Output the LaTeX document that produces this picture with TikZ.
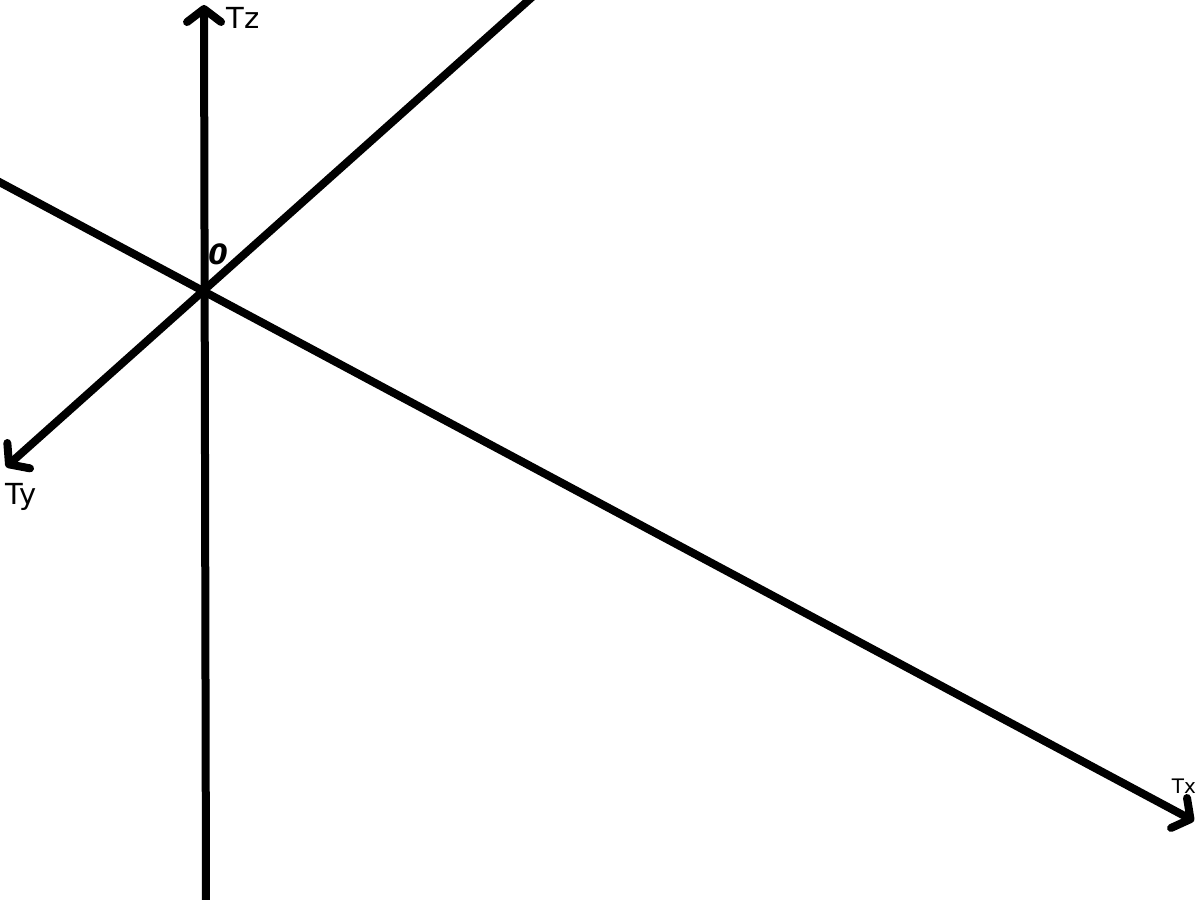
\documentclass[tikz,border=0pt]{standalone}
\usepackage{fontspec}
\setmainfont{DejaVu Sans}
\usetikzlibrary{arrows.meta}
\begin{document}
\begin{tikzpicture}[x=1pt,y=-1pt,
  axisline/.style={line width=8pt, line cap=round, -{Straight Barb[round,length=13pt,width=34pt,line width=8pt]}},
  lbl/.style={inner sep=0pt, font=\fontsize{29}{29}\selectfont}]
\useasboundingbox (0,0) rectangle (1200,900);
\coordinate (O) at (204,290);
\coordinate (ztop) at (204,5);
\coordinate (zbot) at (206,905);
\coordinate (xstart) at (-10,177);
\coordinate (xend) at (1194,821);
\coordinate (ystart) at (540,-10);
\coordinate (yend) at (6,467);
\begin{scope}
\clip (0,0) rectangle (1200,900);
\draw[axisline] (zbot) -- (ztop);
\draw[axisline] (xstart) -- (xend);
\draw[axisline] (ystart) -- (yend);
\end{scope}
\node[lbl] (tz) at (243,18) {Tz};
\node[lbl, font=\itshape\bfseries\fontsize{28}{28}\selectfont] (o) at (218,254) {0};
\node[lbl] (ty) at (21,497) {Ty};
\node[lbl, font=\fontsize{20}{20}\selectfont] (tx) at (1184,786) {Tx};
\end{tikzpicture}
\end{document}
